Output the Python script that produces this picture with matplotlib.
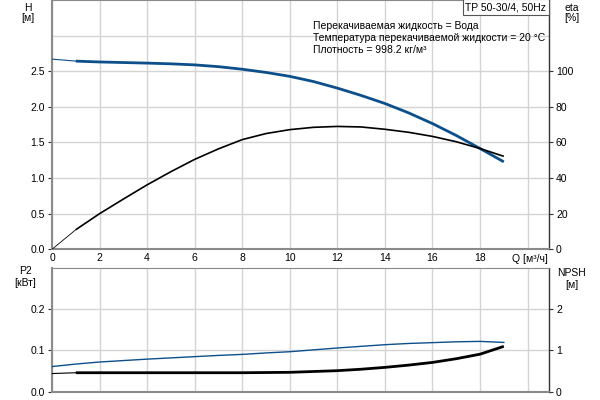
import matplotlib
matplotlib.use("Agg")
import matplotlib.pyplot as plt

plt.rcParams['font.family'] = ['Liberation Sans', 'DejaVu Sans']

# Data
q = [0, 1, 2, 3, 4, 5, 6, 7, 8, 9, 10, 11, 12, 13, 14, 15, 16, 17, 18, 19]
head = [2.670, 2.642, 2.630, 2.622, 2.614, 2.604, 2.589, 2.564, 2.528, 2.483, 2.428, 2.355,
        2.263, 2.160, 2.047, 1.915, 1.765, 1.598, 1.415, 1.228]
eta = [0, 11.0, 20.0, 28.2, 36.2, 43.6, 50.5, 56.4, 61.6, 65.0, 67.2, 68.5, 69.0, 68.7,
       67.4, 65.7, 63.4, 60.4, 56.6, 52.2]
p2 = [0.061, 0.067, 0.072, 0.0755, 0.079, 0.082, 0.085, 0.088, 0.0905, 0.094, 0.097, 0.1015,
      0.106, 0.110, 0.114, 0.117, 0.119, 0.121, 0.122, 0.1195]
npsh = [0.44, 0.46, 0.46, 0.46, 0.46, 0.46, 0.46, 0.46, 0.46, 0.465, 0.47, 0.49, 0.51, 0.545,
        0.59, 0.645, 0.71, 0.80, 0.91, 1.10]

x_ticks = [0, 2, 4, 6, 8, 10, 12, 14, 16, 18]
h_ticks = [0.0, 0.5, 1.0, 1.5, 2.0, 2.5]
eta_ticks = [0, 20, 40, 60, 80, 100]
p2_ticks = [0.0, 0.1, 0.2]
npsh_ticks = [0, 1, 2]

blue = '#0d4f8b'
grid_c = '#d4d4d4'
spine_gray = '#8a8a8a'
fs = 7.5
fs_info = 7.5

fig = plt.figure(figsize=(6, 4), dpi=100)

def style(ax, ylim, ygrid):
    ax.set_xlim(0, 20.9)
    ax.set_ylim(*ylim)
    for g in range(0, 21, 2):
        ax.axvline(g, color=grid_c, lw=1, zorder=0)
    for g in ygrid:
        ax.axhline(g, color=grid_c, lw=1, zorder=0)
    ax.spines['left'].set_color(spine_gray)
    ax.spines['left'].set_linewidth(1.5)
    ax.spines['bottom'].set_color(spine_gray)
    ax.spines['bottom'].set_linewidth(1.5)
    ax.spines['top'].set_color(spine_gray)
    ax.spines['top'].set_linewidth(0.8)
    ax.spines['right'].set_color('#333333')
    ax.spines['right'].set_linewidth(1.0)
    ax.tick_params(labelsize=fs, length=3, width=0.8, pad=2, color='#333333')

# Top axes
ax1 = fig.add_axes([52/600, 1-249.3/400, 497/600, 249.3/400])
style(ax1, (0, 3.5), [0.5, 1.0, 1.5, 2.0, 2.5, 3.0])
ax1.set_xticks(x_ticks)
ax1.set_xticklabels([str(t) for t in x_ticks])
ax1.tick_params(axis='x', length=0, pad=3)
ax1.set_yticks(h_ticks)
ax1.set_yticklabels([f"{t:.1f}" for t in h_ticks])
ax1.plot(q[:2], head[:2], color=blue, lw=0.8, zorder=3)
ax1.plot(q[1:], head[1:], color=blue, lw=2.0, zorder=3, solid_capstyle='butt')

ax1r = ax1.twinx()
ax1r.set_ylim(0, 140)
ax1r.set_yticks(eta_ticks)
ax1r.set_yticklabels([str(t) for t in eta_ticks])
ax1r.tick_params(labelsize=fs, length=3, width=0.8, pad=2, color='#333333')
for s in ax1r.spines.values():
    s.set_visible(False)
ax1r.plot(q[:2], eta[:2], color='black', lw=0.6, zorder=3)
ax1r.plot(q[1:], eta[1:], color='black', lw=1.2, zorder=3, solid_capstyle='butt')

fig.text(28/600, 1-8/400, "H", fontsize=fs, ha='center', va='center')
fig.text(28/600, 1-18/400, "[м]", fontsize=fs, ha='center', va='center')
fig.text(572/600, 1-8/400, "eta", fontsize=fs, ha='center', va='center')
fig.text(572/600, 1-18/400, "[%]", fontsize=fs, ha='center', va='center')
fig.text(512/600, 1-259/400, "Q [м³/ч]", fontsize=fs, ha='left', va='center')
fig.text(546/600, 1-7/400, "TP 50-30/4, 50Hz", fontsize=fs_info, ha='right', va='center',
         bbox=dict(boxstyle='square,pad=0.25', fc='white', ec='#555555', lw=0.8))
info = ["Перекачиваемая жидкость = Вода",
        "Температура перекачиваемой жидкости = 20 °C",
        "Плотность = 998.2 кг/м³"]
for i, t in enumerate(info):
    fig.text(313/600, 1-(26 + 12*i)/400, t, fontsize=fs_info, ha='left', va='center')

# Bottom axes
ax2 = fig.add_axes([52/600, 1-391.7/400, 497/600, (391.7-268)/400])
style(ax2, (0, 0.3), [0.1, 0.2])
ax2.set_xticks(x_ticks)
ax2.tick_params(axis='x', labelbottom=False, length=0)
ax2.set_yticks(p2_ticks)
ax2.set_yticklabels([f"{t:.1f}" for t in p2_ticks])
ax2.plot(q, p2, color=blue, lw=1.0, zorder=3)

ax2r = ax2.twinx()
ax2r.set_ylim(0, 3)
ax2r.set_yticks(npsh_ticks)
ax2r.set_yticklabels([str(t) for t in npsh_ticks])
ax2r.tick_params(labelsize=fs, length=3, width=0.8, pad=2, color='#333333')
for s in ax2r.spines.values():
    s.set_visible(False)
ax2r.plot(q[:2], npsh[:2], color='black', lw=0.8, zorder=3)
ax2r.plot(q[1:], npsh[1:], color='black', lw=2.0, zorder=3, solid_capstyle='butt')

fig.text(25/600, 1-271/400, "P2", fontsize=fs, ha='center', va='center')
fig.text(25/600, 1-283/400, "[кВт]", fontsize=fs, ha='center', va='center')
fig.text(572/600, 1-273/400, "NPSH", fontsize=fs, ha='center', va='center')
fig.text(572/600, 1-285/400, "[м]", fontsize=fs, ha='center', va='center')

fig.savefig("out.png", dpi=100)
